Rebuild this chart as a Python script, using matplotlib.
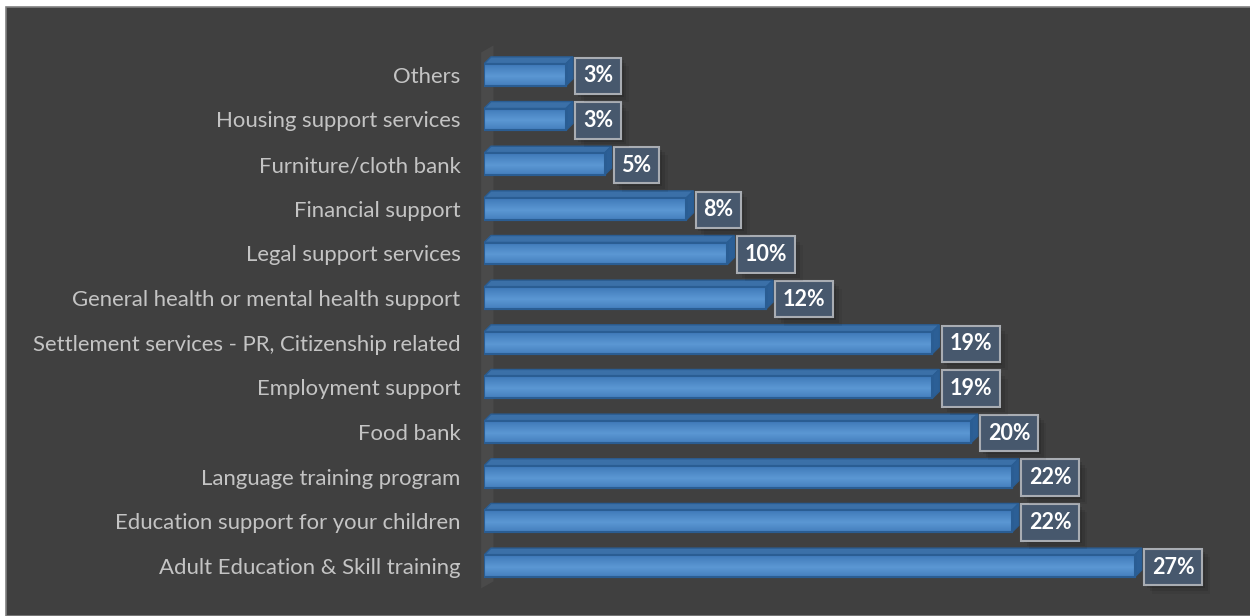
import numpy as np
import matplotlib
matplotlib.use("Agg")
import matplotlib.pyplot as plt
from matplotlib.patches import Polygon, Rectangle
import matplotlib.patheffects as pe

plt.rcParams['font.family'] = ['Lato', 'DejaVu Sans']

# survey results, listed bottom row first
categories = [
    "Adult Education & Skill training",
    "Education support for your children",
    "Language training program",
    "Food bank",
    "Employment support",
    "Settlement services - PR, Citizenship related",
    "General health or mental health support",
    "Legal support services",
    "Financial support",
    "Furniture/cloth bank",
    "Housing support services",
    "Others",
]
values = [27.0, 21.9, 21.9, 20.2, 18.6, 18.6, 11.7, 10.1, 8.4, 5.0, 3.4, 3.4]
labels = ["%d%%" % round(v) for v in values]

BG = "#404040"
FRONT = "#5592cf"
TOP = "#3b70a8"
SIDE = "#2c5f96"
EDGE = "#2a5d93"

W, H, DPI = 1250, 616, 100
fig = plt.figure(figsize=(W / DPI, H / DPI), dpi=DPI, facecolor="white")

# dark chart area with thin grey frame
fig.patches.append(Rectangle((6 / W, 0), 1, 1 - 7 / H, transform=fig.transFigure,
                             facecolor=BG, edgecolor="#808080", linewidth=1.2, zorder=-10))

ax = fig.add_axes([484 / W, 16 / H, (W - 484) / W, 560 / H])
ax.set_facecolor("none")
n = len(categories)
y = np.arange(n)
xmax = (W - 484) / 24.1
for s in ax.spines.values():
    s.set_visible(False)
ax.set_xticks([])
ax.set_yticks(y)
ax.set_yticklabels(categories, color="#c4c4c4", fontsize=15.9)
ax.tick_params(axis="y", length=0, pad=17)

# depth of the 3d effect in data units (about 7 px each way)
dx = 7 / 24.1
dy = 7 / 44.64
h = 0.49

# back wall strip
ax.add_patch(Polygon([(-0.12, -0.5), (-0.12, n - 0.5), (dx + 0.1, n - 0.5 + dy),
                      (dx + 0.1, -0.5 + dy)], closed=True, facecolor="#4a4a4a",
                     edgecolor="none", clip_on=False, zorder=1))

grad = np.linspace(0, 1, 64).reshape(-1, 1)
grad = 1 - np.abs(grad - 0.55) * 1.6
cmap = matplotlib.colors.LinearSegmentedColormap.from_list("bar", ["#3f79b8", "#5b97d3"])

shadow = [pe.SimplePatchShadow(offset=(6, -6), shadow_rgbFace="black", alpha=0.06),
          pe.SimplePatchShadow(offset=(4, -4), shadow_rgbFace="black", alpha=0.09),
          pe.SimplePatchShadow(offset=(2, -2), shadow_rgbFace="black", alpha=0.12),
          pe.Normal()]

for yi, v, lab in zip(y, values, labels):
    b = yi - h / 2
    t = yi + h / 2
    # top face
    ax.add_patch(Polygon([(0, t), (v, t), (v + dx, t + dy), (dx, t + dy)], closed=True,
                         facecolor=TOP, edgecolor=EDGE, linewidth=1, zorder=3))
    # right side face
    ax.add_patch(Polygon([(v, b), (v, t), (v + dx, t + dy), (v + dx, b + dy)], closed=True,
                         facecolor=SIDE, edgecolor=EDGE, linewidth=1, zorder=3))
    # front face with soft vertical gradient
    front = Rectangle((0, b), v, h, facecolor=FRONT, edgecolor=EDGE, linewidth=1.5, zorder=4)
    ax.add_patch(front)
    im = ax.imshow(grad, extent=(0, v, b, t), cmap=cmap, aspect="auto", zorder=4.5,
                   interpolation="bilinear")
    im.set_clip_path(front)
    ax.add_patch(Rectangle((0, b), v, h, facecolor="none", edgecolor=EDGE,
                           linewidth=1.5, zorder=5))

    txt = ax.annotate(lab, xy=(v + dx, yi), xytext=(10, -1), textcoords="offset pixels",
                      ha="left", va="center", fontsize=15.5, fontweight="bold", color="white",
                      bbox=dict(boxstyle="square,pad=0.36", facecolor="#47586d",
                                edgecolor="#a9adb3", linewidth=1.5), zorder=7,
                      annotation_clip=False)
    txt.get_bbox_patch().set_path_effects(shadow)

ax.set_xlim(0, xmax)
ax.set_ylim(-0.76, n - 1 + 0.78)

fig.savefig("out.png", dpi=DPI, facecolor="white")
